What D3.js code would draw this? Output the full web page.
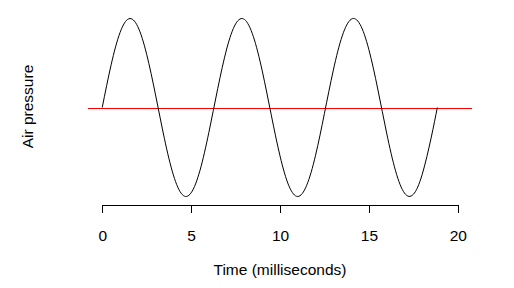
<!DOCTYPE html>
<html lang="en">
<head>
    <meta charset="UTF-8">
    <title>Air pressure</title>
    <style>
        body {
            margin: 0;
            background: #fff;
        }
        svg text {
            font-family: Arial, "Liberation Sans", sans-serif;
            font-size: 15.5px;
            fill: #000;
        }
    </style>
</head>
<body>
    <script src="https://d3js.org/d3.v7.min.js"></script>
    <script>
        const width = 514
        const height = 288

        // time in ms, read every half millisecond along the curve
        const times = [
            0, 0.5, 1, 1.5, 2, 2.5, 3, 3.5, 4, 4.5,
            5, 5.5, 6, 6.5, 7, 7.5, 8, 8.5, 9, 9.5,
            10, 10.5, 11, 11.5, 12, 12.5, 13, 13.5, 14, 14.5,
            15, 15.5, 16, 16.5, 17, 17.5, 18, 18.5, 18.85
        ]
        const pressure = [
            0, 0.479, 0.841, 0.997, 0.909, 0.598, 0.141, -0.351, -0.757, -0.978,
            -0.959, -0.706, -0.279, 0.215, 0.657, 0.938, 0.989, 0.798, 0.412, -0.075,
            -0.544, -0.88, -1, -0.875, -0.537, -0.066, 0.42, 0.804, 0.991, 0.935,
            0.65, 0.207, -0.288, -0.712, -0.961, -0.976, -0.751, -0.342, 0
        ]
        const xTicks = [0, 5, 10, 15, 20]

        const data = times.map((t, i) => ({ t: t, p: pressure[i] }))

        const x = d3.scaleLinear()
            .domain([-0.8, 20.8])
            .range([88, 472])

        const y = d3.scaleLinear()
            .domain([-1, 1])
            .range([196.5, 18.5])

        const svg = d3.select('body')
            .append('svg')
            .attr('width', width)
            .attr('height', height)

        // zero line
        svg.append('line')
            .attr('x1', x.range()[0])
            .attr('x2', x.range()[1])
            .attr('y1', Math.round(y(0)) + 0.5)
            .attr('y2', Math.round(y(0)) + 0.5)
            .attr('stroke', '#ff0000')
            .attr('stroke-width', 1)
            .attr('shape-rendering', 'crispEdges')

        const line = d3.line()
            .x(d => x(d.t))
            .y(d => y(d.p))
            .curve(d3.curveNatural)

        svg.append('path')
            .datum(data)
            .attr('d', line)
            .attr('fill', 'none')
            .attr('stroke', '#000')
            .attr('stroke-width', 1)

        // x axis only spans 0..20
        const axisScale = x.copy()
            .domain([0, 20])
            .range([x(0), x(20)])

        const xAxis = d3.axisBottom(axisScale)
            .tickValues(xTicks)
            .tickSize(8)
            .tickSizeOuter(0)
            .tickPadding(18)
            .tickFormat(d3.format('d'))

        const gx = svg.append('g')
            .attr('transform', 'translate(0, 204.5)')
            .call(xAxis)

        gx.attr('font-size', null).attr('font-family', null)
        gx.selectAll('path, line')
            .attr('stroke', '#000')
            .attr('shape-rendering', 'crispEdges')
        gx.selectAll('text')
            .attr('y', 36.5)
            .attr('dy', null)

        svg.append('text')
            .attr('x', 280)
            .attr('y', 274.5)
            .attr('text-anchor', 'middle')
            .text('Time (milliseconds)')

        svg.append('text')
            .attr('transform', 'translate(33, 106.5) rotate(-90)')
            .attr('text-anchor', 'middle')
            .text('Air pressure')
    </script>
</body>
</html>
